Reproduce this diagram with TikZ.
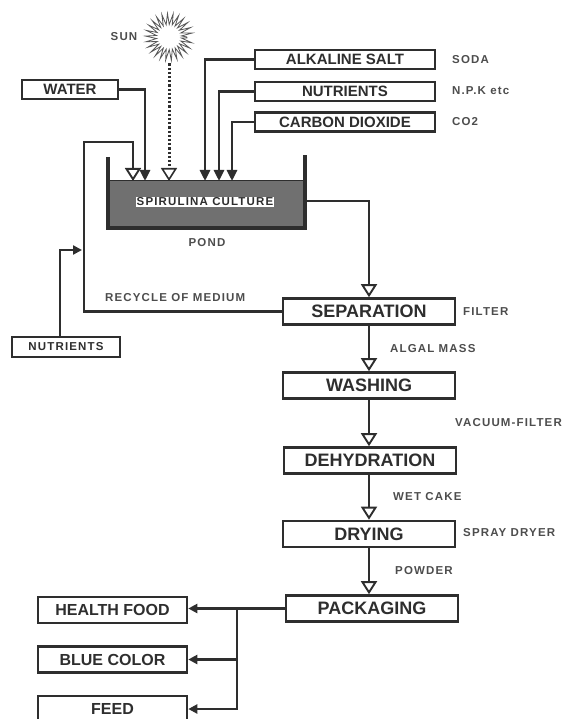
\documentclass[tikz,border=0pt]{standalone}
\usepackage{fontspec}
\setmainfont{Liberation Sans}
\newfontfamily\spacedfont[LetterSpace=10]{Liberation Sans}
\usetikzlibrary{arrows.meta, positioning, decorations.pathmorphing}
\definecolor{ink}{HTML}{2E2E2E}
\definecolor{pondgray}{HTML}{707070}

\begin{document}
\begin{tikzpicture}[x=1pt, y=-1pt, >=Stealth,
    box/.style={rectangle, draw=ink, line width=2.6pt, minimum height=19pt, inner sep=0pt, text=ink, font=\bfseries\fontsize{15}{15}\selectfont},
    stage/.style={box, minimum width=172pt, minimum height=26pt, font=\bfseries\fontsize{18}{18}\selectfont},
    product/.style={box, minimum width=149pt, minimum height=26pt, font=\bfseries\fontsize{16}{16}\selectfont},
    note/.style={text=ink!85, font=\spacedfont\bfseries\fontsize{11.5}{11.5}\selectfont, anchor=west, inner sep=0pt},
    flow/.style={draw=ink, line width=2.7pt, -{Triangle[open, length=13pt, width=16pt, line width=1.9pt]}},
    supply/.style={draw=ink, line width=2.7pt, -{Triangle[length=11pt, width=10pt]}},
    yield/.style={draw=ink, line width=2.7pt, -{Triangle[length=9pt, width=9pt]}}]
  \useasboundingbox (0,0) rectangle (572,719);

  % sun and inputs
  \node[circle, draw=ink!80, line width=0.8pt, minimum size=36pt, decorate, decoration={zigzag, segment length=4.4pt, amplitude=5.5pt}] (sun) at (169,37) {};
  \node[note, anchor=center] (sunlabel) at (124,37) {SUN};
  \node[box, minimum width=96pt] (water) at (70,89.5) {WATER};
  \node[box, minimum width=180pt] (salt) at (345,59.5) {ALKALINE SALT};
  \node[box, minimum width=180pt] (npk) at (345,91.5) {NUTRIENTS};
  \node[box, minimum width=180pt] (co2) at (345,122) {CARBON DIOXIDE};
  \node[note] at (452,60) {SODA};
  \node[note] at (452,91) {N.P.K etc};
  \node[note] at (452,122) {CO2};

  % pond
  \node[fill=pondgray, draw=ink, line width=1pt, minimum width=195pt, minimum height=45pt, inner sep=0pt] (pond) at (206.5,203.5) {};
  \node[fill=white, text=ink, inner sep=1pt, font=\spacedfont\bfseries\fontsize{11.5}{11.5}\selectfont] (culture) at (205,202) {SPIRULINA CULTURE};
  \draw[ink, line width=4pt] (108,157) |- (305,228) -- (305,155);
  \node[note, anchor=center] (pondlabel) at (207,243) {POND};
  \coordinate (inR) at (133,181);
  \coordinate (inW) at (145,181);
  \coordinate (inS) at (169,181);
  \coordinate (inA) at (205,181);
  \coordinate (inN) at (219,181);
  \coordinate (inC) at (232,181);
  \coordinate (outlet) at (305,201);

  % process chain
  \node[stage] (sep) at (369,311.5) {SEPARATION};
  \node[stage] (wash) at (369,385.5) {WASHING};
  \node[stage] (dehyd) at (370,460.5) {DEHYDRATION};
  \node[stage] (dry) at (369,534) {DRYING};
  \node[stage] (pack) at (372,608.5) {PACKAGING};
  \node[note] at (463,312) {FILTER};
  \node[note] at (390,349) {ALGAL MASS};
  \node[note] at (455,423) {VACUUM-FILTER};
  \node[note] at (393,497) {WET CAKE};
  \node[note] at (463,533) {SPRAY DRYER};
  \node[note] at (395,571) {POWDER};

  % recycle loop
  \node[box, minimum width=108pt, minimum height=20pt, font=\spacedfont\bfseries\fontsize{11.5}{11.5}\selectfont] (nutl) at (66,347) {NUTRIENTS};
  \node[note] at (105,298) {RECYCLE OF MEDIUM};
  \coordinate (rc) at (84,142);
  \coordinate (mix) at (82,250);

  % products
  \node[product] (health) at (112.5,610) {HEALTH FOOD};
  \node[product] (blue) at (112.5,659.5) {BLUE COLOR};
  \node[product] (feedbox) at (112.5,709) {FEED};
  \coordinate (branch) at (237,609);

  \draw[ink, line width=3pt, dash pattern=on 2.2pt off 2pt, shorten <=8pt, -{Triangle[open, length=13pt, width=16pt, line width=1.6pt]}] (sun.south) -- (inS);
  \draw[supply] (water.east) -| (inW);
  \draw[supply] (salt.west) -| (inA);
  \draw[supply] (npk.west) -| (inN);
  \draw[supply] (co2.west) -| (inC);
  \draw[flow] (outlet) -| (sep.north);
  \draw[flow] (sep.west) -| (rc) -| (inR);
  \draw[yield] (nutl.north -| 60,0) |- (mix);
  \draw[flow] (sep.south) -- (sep.south |- wash.north);
  \draw[flow] (wash.south) -- (wash.south |- dehyd.north);
  \draw[flow] (dehyd.south -| dry) -- (dry.north);
  \draw[flow] (dry.south) -- (dry.south |- pack.north);
  \draw[yield] (pack.west) -- (pack.west -| health.east);
  \draw[yield] (branch) |- (blue.east);
  \draw[yield] (branch) |- (feedbox.east);
\end{tikzpicture}
\end{document}
